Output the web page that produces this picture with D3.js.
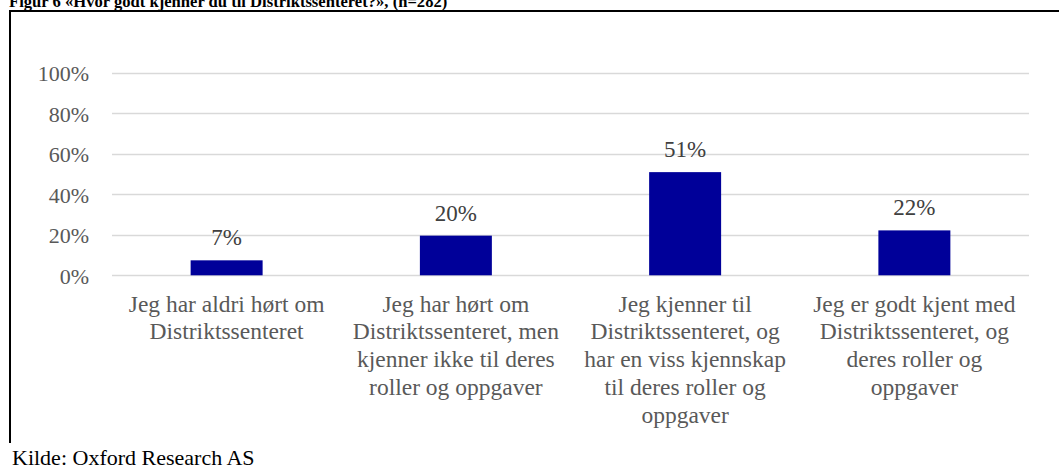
<!DOCTYPE html>
<html>
<head>
<meta charset="utf-8">
<script src="https://cdn.jsdelivr.net/npm/d3@7"></script>
<style>
  html, body { margin: 0; padding: 0; background: #fff; }
  svg { display: block; }
  text { font-family: "Liberation Serif", "Times New Roman", serif; }
</style>
</head>
<body>
<svg id="chart" width="1059" height="466"></svg>
<script>
const title = "Figur 6 «Hvor godt kjenner du til Distriktssenteret?», (n=282)";
const source = "Kilde: Oxford Research AS";
const categories = [
  "Jeg har aldri hørt om\nDistriktssenteret",
  "Jeg har hørt om\nDistriktssenteret, men\nkjenner ikke til deres\nroller og oppgaver",
  "Jeg kjenner til\nDistriktssenteret, og\nhar en viss kjennskap\ntil deres roller og\noppgaver",
  "Jeg er godt kjent med\nDistriktssenteret, og\nderes roller og\noppgaver"
];
const values = [0.074, 0.196, 0.51, 0.222];
const valueLabels = ["7%", "20%", "51%", "22%"];
const tickValues = [0, 0.2, 0.4, 0.6, 0.8, 1.0];

const svg = d3.select("#chart");

const x = d3.scaleBand()
  .domain(categories)
  .range([112, 1029])
  .paddingInner(0.686)
  .paddingOuter(0.343);

const y = d3.scaleLinear().domain([0, 1]).range([275.3, 73]);

// frame
svg.append("line").attr("x1", 9).attr("x2", 1060).attr("y1", 11).attr("y2", 11)
  .attr("stroke", "#000").attr("stroke-width", 2);
svg.append("line").attr("x1", 10).attr("x2", 10).attr("y1", 10).attr("y2", 443)
  .attr("stroke", "#000").attr("stroke-width", 2);

// title (cut at the top edge, as in the reference)
svg.append("text").attr("x", 9).attr("y", 6.5)
  .attr("font-size", 16.6).attr("font-weight", "bold").attr("fill", "#000")
  .text(title);

// gridlines
svg.append("g").selectAll("line").data(tickValues).join("line")
  .attr("x1", 112).attr("x2", 1029)
  .attr("y1", d => Math.round(y(d)) + 0.5).attr("y2", d => Math.round(y(d)) + 0.5)
  .attr("stroke", "#d9d9d9").attr("stroke-width", 1.3);

// y axis labels
const yAxis = d3.axisLeft(y).tickValues(tickValues).tickFormat(d3.format(".0%")).tickSize(0).tickPadding(0);
const ya = svg.append("g").attr("transform", "translate(89,0)").call(yAxis);
ya.select(".domain").remove();
ya.selectAll("text")
  .attr("font-family", "'Liberation Serif', 'Times New Roman', serif")
  .attr("font-size", 22).attr("fill", "#595959").attr("dy", "0.35em");

// bars
svg.append("g").selectAll("rect").data(values).join("rect")
  .attr("x", (d, i) => x(categories[i]))
  .attr("width", x.bandwidth())
  .attr("y", d => y(d))
  .attr("height", d => y(0) - y(d))
  .attr("fill", "#000099");

// value labels
svg.append("g").selectAll("text").data(values).join("text")
  .attr("x", (d, i) => x(categories[i]) + x.bandwidth() / 2)
  .attr("y", d => y(d) - 15)
  .attr("text-anchor", "middle")
  .attr("font-size", 23).attr("fill", "#404040")
  .text((d, i) => valueLabels[i]);

// category labels
const cat = svg.append("g").selectAll("text").data(categories).join("text")
  .attr("text-anchor", "middle")
  .attr("font-size", 23.5).attr("fill", "#595959");
cat.each(function(d) {
  const cx = x(d) + x.bandwidth() / 2;
  d3.select(this).selectAll("tspan").data(d.split("\n")).join("tspan")
    .attr("x", cx)
    .attr("y", (l, j) => 311.7 + j * 27.7)
    .text(l => l);
});

// source
svg.append("text").attr("x", 12).attr("y", 464.5)
  .attr("font-size", 22).attr("fill", "#000")
  .text(source);
</script>
</body>
</html>
